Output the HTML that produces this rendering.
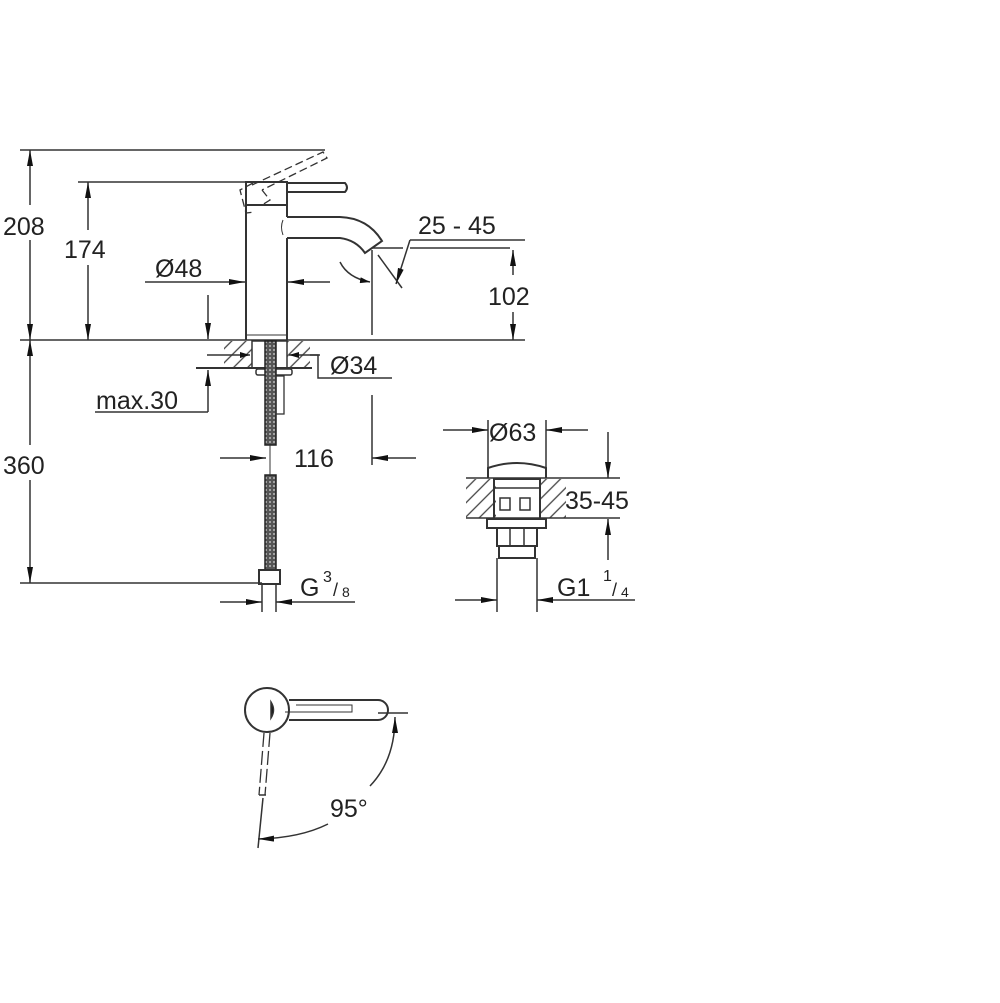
<!DOCTYPE html>
<html><head><meta charset="utf-8"><style>
html,body{margin:0;padding:0;background:#fff;}
svg{display:block}
text{font-family:"Liberation Sans",sans-serif;fill:#222;}
</style></head><body>
<svg width="1000" height="1003" viewBox="0 0 1000 1003" xmlns="http://www.w3.org/2000/svg">
<defs>
<marker id="a" viewBox="0 0 10 6" refX="10" refY="3" markerWidth="10" markerHeight="6" orient="auto-start-reverse" markerUnits="userSpaceOnUse"><path d="M0,0 L10,3 L0,6 Z" fill="#111"/></marker>
<marker id="b" viewBox="0 0 16 6" refX="16" refY="3" markerWidth="16" markerHeight="6" orient="auto-start-reverse" markerUnits="userSpaceOnUse"><path d="M0,0 L16,3 L0,6 Z" fill="#111"/></marker>
<pattern id="h" patternUnits="userSpaceOnUse" width="10" height="10" patternTransform="rotate(-45)"><line x1="0" y1="5" x2="10" y2="5" stroke="#444" stroke-width="1.3"/></pattern>
<pattern id="br" patternUnits="userSpaceOnUse" width="4" height="4"><rect width="4" height="4" fill="#555"/><circle cx="2" cy="2" r="1" fill="#bbb"/></pattern>
</defs>
<g stroke="#333" stroke-width="1.5" fill="none">
<line x1="20" y1="150" x2="325" y2="150"/>
<line x1="78" y1="182" x2="246" y2="182"/>
<line x1="20" y1="340" x2="525" y2="340"/>
<line x1="20" y1="583" x2="262" y2="583"/>
<line x1="30" y1="150" x2="30" y2="205" marker-start="url(#b)"/>
<line x1="30" y1="240" x2="30" y2="340" marker-end="url(#b)"/>
<line x1="88" y1="182" x2="88" y2="230" marker-start="url(#b)"/>
<line x1="88" y1="265" x2="88" y2="340" marker-end="url(#b)"/>
<line x1="30" y1="340" x2="30" y2="445" marker-start="url(#b)"/>
<line x1="30" y1="480" x2="30" y2="583" marker-end="url(#b)"/>
<rect x="246" y="182" width="41" height="23" stroke-width="2"/>
<line x1="246" y1="205" x2="246" y2="340" stroke-width="2"/>
<line x1="287" y1="205" x2="287" y2="217" stroke-width="2"/>
<line x1="287" y1="238" x2="287" y2="340" stroke-width="2"/>
<path d="M287,183 H345 Q349,187.5 345,192 H287" stroke-width="2"/>
<path d="M287,217 H340 Q368,218 382,241 L365,253 Q356,240 340,238 H287" stroke-width="2"/>
<path d="M283,220 Q280,227 283,235" stroke-width="1"/>
<line x1="246" y1="335" x2="287" y2="335" stroke-width="1"/>
<g stroke-dasharray="8,4" stroke-width="1.3">
<path d="M252,185 L323,152 L327,158 L262,190"/>
<path d="M253,183 L240,190 L246,213 L255,212"/>
<path d="M262,190 L270,200 L262,205"/>
</g>
<line x1="372" y1="248" x2="403" y2="248"/>
<line x1="410" y1="240" x2="525" y2="240"/>
<line x1="410" y1="248" x2="510" y2="248"/>
<line x1="410" y1="240" x2="396" y2="284" marker-end="url(#b)"/>
<line x1="378" y1="255" x2="402" y2="288"/>
<path d="M340,262 Q348,278 370,282" marker-end="url(#a)"/>
<line x1="372" y1="250" x2="372" y2="335"/>
<line x1="513" y1="250" x2="513" y2="275" marker-start="url(#b)"/>
<line x1="513" y1="312" x2="513" y2="340" marker-end="url(#b)"/>
<line x1="145" y1="282" x2="245" y2="282" marker-end="url(#b)"/>
<line x1="330" y1="282" x2="288" y2="282" marker-end="url(#b)"/>
<line x1="208" y1="295" x2="208" y2="339" marker-end="url(#b)"/>
<line x1="208" y1="412" x2="208" y2="370" marker-end="url(#b)"/>
<line x1="95" y1="412" x2="208" y2="412"/>
<rect x="224" y="341" width="28" height="27" fill="url(#h)" stroke="none"/>
<rect x="287" y="341" width="23" height="27" fill="url(#h)" stroke="none"/>
<line x1="196" y1="368" x2="312" y2="368" stroke-width="2"/>
<rect x="252" y="341" width="35" height="27" stroke-width="1.5"/>
<line x1="207" y1="355" x2="250" y2="355" marker-end="url(#a)"/>
<line x1="320" y1="355" x2="289" y2="355" marker-end="url(#a)"/>
<polyline points="310,355 318,355 318,378 392,378"/>
<rect x="256" y="369" width="36" height="6" rx="2"/>
<rect x="265" y="341" width="11" height="104" fill="url(#br)" stroke="#222"/>
<rect x="265" y="475" width="11" height="95" fill="url(#br)" stroke="#222"/>
<rect x="276" y="376" width="8" height="38" stroke-width="1.3"/>
<rect x="259" y="570" width="21" height="14" stroke-width="2"/>
<line x1="262" y1="584" x2="262" y2="612"/>
<line x1="276" y1="584" x2="276" y2="612"/>
<line x1="220" y1="602" x2="262" y2="602" marker-end="url(#b)"/>
<line x1="355" y1="602" x2="276" y2="602" marker-end="url(#b)"/>
<line x1="270" y1="445" x2="270" y2="475" stroke-width="1"/>
<line x1="220" y1="458" x2="266" y2="458" marker-end="url(#b)"/>
<line x1="416" y1="458" x2="372" y2="458" marker-end="url(#b)"/>
<line x1="372" y1="395" x2="372" y2="465"/>
<line x1="488" y1="420" x2="488" y2="470"/>
<line x1="546" y1="420" x2="546" y2="470"/>
<line x1="443" y1="430" x2="488" y2="430" marker-end="url(#b)"/>
<line x1="588" y1="430" x2="546" y2="430" marker-end="url(#b)"/>
<path d="M488,478 V468 Q517,458 546,468 V478" stroke-width="2"/>
<rect x="466" y="479" width="30" height="39" fill="url(#h)" stroke="none"/>
<rect x="540" y="479" width="26" height="39" fill="url(#h)" stroke="none"/>
<line x1="466" y1="478" x2="620" y2="478"/>
<line x1="466" y1="518" x2="620" y2="518"/>
<rect x="494" y="479" width="46" height="40" stroke-width="2"/>
<rect x="500" y="498" width="10" height="12"/>
<rect x="520" y="498" width="10" height="12"/>
<line x1="494" y1="488" x2="540" y2="488"/>
<rect x="487" y="519" width="59" height="9" stroke-width="2"/>
<rect x="497" y="528" width="40" height="18" stroke-width="2"/>
<line x1="510" y1="528" x2="510" y2="546"/><line x1="524" y1="528" x2="524" y2="546"/>
<rect x="499" y="546" width="36" height="12" stroke-width="2"/>
<line x1="497" y1="558" x2="497" y2="612"/>
<line x1="537" y1="558" x2="537" y2="612"/>
<line x1="455" y1="600" x2="497" y2="600" marker-end="url(#b)"/>
<line x1="635" y1="600" x2="537" y2="600" marker-end="url(#b)"/>
<line x1="608" y1="432" x2="608" y2="478" marker-end="url(#b)"/>
<line x1="608" y1="560" x2="608" y2="519" marker-end="url(#b)"/>
<circle cx="267" cy="710" r="22" stroke-width="2"/>
<path d="M271,702 Q276,710 271,718 Z" fill="#111"/>
<path d="M289,700 H378 A10,10 0 0 1 378,720 H289" stroke-width="2"/>
<path d="M285,712 H352 V705 H296" stroke-width="1"/>
<line x1="378" y1="713" x2="408" y2="713"/>
<g stroke-dasharray="14,4" stroke-width="1.3">
<line x1="264" y1="733" x2="259" y2="795"/>
<line x1="270" y1="733" x2="265" y2="795"/>
</g>
<line x1="259" y1="795" x2="266" y2="795"/>
<line x1="263" y1="798" x2="258" y2="848"/>
<path d="M370,786 Q395,760 395,717" marker-end="url(#b)"/>
<path d="M328,824 Q300,838 258,839" marker-end="url(#b)"/>
</g>
<g font-size="25">
<text x="3" y="235">208</text>
<text x="64" y="258">174</text>
<text x="3" y="474">360</text>
<text x="155" y="277">Ø48</text>
<text x="418" y="234">25 - 45</text>
<text x="488" y="305">102</text>
<text x="330" y="374">Ø34</text>
<text x="96" y="409">max.30</text>
<text x="294" y="467">116</text>
<text x="300" y="596">G</text>
<text x="323" y="582" font-size="16">3</text>
<text x="333" y="596" font-size="18">/</text>
<text x="342" y="597" font-size="14">8</text>
<text x="489" y="441">Ø63</text>
<text x="565" y="509">35-45</text>
<text x="557" y="596">G1</text>
<text x="603" y="581" font-size="16">1</text>
<text x="612" y="596" font-size="18">/</text>
<text x="621" y="597" font-size="14">4</text>
<text x="330" y="817">95°</text>
</g>
</svg>
</body></html>
